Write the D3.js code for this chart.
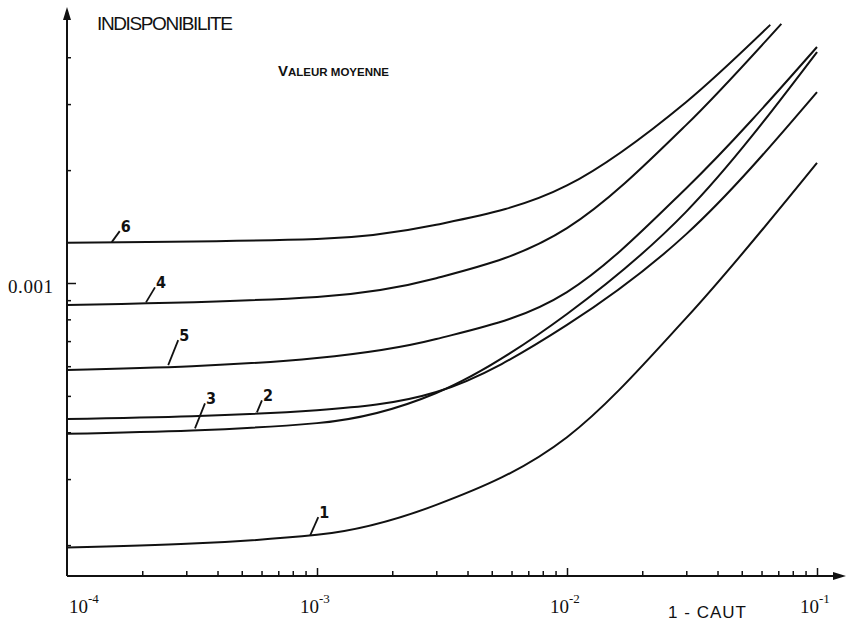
<!DOCTYPE html>
<html>
<head>
<meta charset="utf-8">
<script src="https://cdn.jsdelivr.net/npm/d3@7"></script>
<style>
  body { margin: 0; background: #fff; }
  svg { display: block; }
  text { fill: #111; }
</style>
</head>
<body>
<div id="chart"></div>
<script>
// Abscisses (1 - CAUT) des points relevés, par courbe
const xCommun = [1e-4, 1e-3, 3e-3, 1e-2, 3e-2, 1e-1];
const xCourbe4 = [1e-4, 1e-3, 3e-3, 1e-2, 3e-2, 0.072];
const xCourbe6 = [1e-4, 1e-3, 3e-3, 1e-2, 3e-2, 0.065];

// Indisponibilité (valeur moyenne)
const courbe1 = [0.000197, 0.000213, 0.000256, 0.000388, 0.000807, 0.00209];
const courbe2 = [0.000434, 0.000458, 0.000512, 0.000773, 0.00135, 0.00323];
const courbe3 = [0.000396, 0.000423, 0.000509, 0.000827, 0.00155, 0.00413];
const courbe4 = [0.000874, 0.000918, 0.00103, 0.00140, 0.00264, 0.00491];
const courbe5 = [0.000586, 0.000631, 0.000709, 0.000946, 0.00179, 0.00426];
const courbe6 = [0.00128, 0.00131, 0.00143, 0.00182, 0.00304, 0.00488];

// Repères des numéros de courbe (abscisse du trait de rappel)
const numeros = ['1', '2', '3', '4', '5', '6'];
const xNumeros = [9.4e-4, 5.75e-4, 3.25e-4, 2.07e-4, 2.54e-4, 1.51e-4];

// Graduations
const xDecades = [1e-4, 1e-3, 1e-2, 1e-1];
const xLabels = ['-4', '-3', '-2', '-1'];
const yMineures = [2e-4, 3e-4, 4e-4, 5e-4, 6e-4, 7e-4, 8e-4, 9e-4, 2e-3, 3e-3, 4e-3];
const yMajeure = [1e-3];
const yLabel = ['0.001'];

const series = [
    { id: '1', xs: xCommun, ys: courbe1 },
    { id: '2', xs: xCommun, ys: courbe2 },
    { id: '3', xs: xCommun, ys: courbe3 },
    { id: '4', xs: xCourbe4, ys: courbe4 },
    { id: '5', xs: xCommun, ys: courbe5 },
    { id: '6', xs: xCourbe6, ys: courbe6 }
];

const width = 846, height = 623;

let svg = d3.select('#chart')
    .append('svg')
        .attr('width', width)
        .attr('height', height);

//Echelles log-log
let x = d3.scaleLog()
    .domain([1e-4, 1e-1])
    .range([67, 817]);

let y = d3.scaleLog()
    .domain([1e-4, 1e-2])
    .range([658, -92]);

const yBas = 576;

//Axe X : graduations vers le haut
let xMinor = [];
xDecades.slice(0, 3).forEach(function(d) {
    for (let k = 2; k <= 9; k++) xMinor.push(d * k);
});

svg.append('g')
    .attr('transform', 'translate(0,' + yBas + ')')
    .call(d3.axisBottom(x).tickValues(xMinor).tickSize(-5).tickFormat(''))
    .call(function(g) { g.select('.domain').remove(); })
    .call(function(g) { g.selectAll('.tick line').attr('stroke', '#111').attr('stroke-width', 1.5); });

svg.append('g')
    .attr('transform', 'translate(0,' + yBas + ')')
    .call(d3.axisBottom(x).tickValues(xDecades.slice(1)).tickSize(-8).tickFormat(''))
    .call(function(g) { g.select('.domain').remove(); })
    .call(function(g) { g.selectAll('.tick line').attr('stroke', '#111').attr('stroke-width', 1.5); });

//Axe Y : graduations vers la droite
svg.append('g')
    .attr('transform', 'translate(67,0)')
    .call(d3.axisLeft(y).tickValues(yMineures).tickSize(-4).tickFormat(''))
    .call(function(g) { g.select('.domain').remove(); })
    .call(function(g) { g.selectAll('.tick line').attr('stroke', '#111').attr('stroke-width', 1.5); });

svg.append('g')
    .attr('transform', 'translate(67,0)')
    .call(d3.axisLeft(y).tickValues(yMajeure).tickSize(-9).tickFormat(''))
    .call(function(g) { g.select('.domain').remove(); })
    .call(function(g) { g.selectAll('.tick line').attr('stroke', '#111').attr('stroke-width', 1.5); });

//Traits des axes avec flèches
svg.append('path')
    .attr('d', 'M67,' + yBas + 'V18 M67,' + yBas + 'H836')
    .attr('fill', 'none')
    .attr('stroke', '#111')
    .attr('stroke-width', 2);

svg.append('path')
    .attr('d', 'M67,7 L63,20 L71,20 Z')
    .attr('fill', '#111');

svg.append('path')
    .attr('d', 'M846,' + yBas + ' L833,' + (yBas - 4) + ' L833,' + (yBas + 4) + ' Z')
    .attr('fill', '#111');

//Libellés des décades 10^-n
let lab = svg.append('g')
    .selectAll('text')
    .data(xDecades)
    .enter()
    .append('text')
    .attr('x', function(d, i) { return i == 0 ? x(d) + 2 : x(d) - 17; })
    .attr('y', 613)
    .style('font-family', '"Liberation Serif", serif')
    .style('font-size', '19px');

lab.append('tspan').text('10');
lab.append('tspan')
    .attr('dy', -10)
    .style('font-size', '13px')
    .text(function(d, i) { return xLabels[i]; });

svg.append('text')
    .attr('x', 668)
    .attr('y', 618)
    .style('font-family', '"Liberation Sans Narrow", sans-serif')
    .style('font-size', '17px')
    .attr('textLength', 78)
    .text('1 - CAUT');

svg.append('text')
    .attr('x', 53)
    .attr('y', y(yMajeure[0]) + 10)
    .attr('text-anchor', 'end')
    .style('font-family', '"Liberation Serif", serif')
    .style('font-size', '19px')
    .attr('textLength', 45)
    .text(yLabel[0]);

//Titres
svg.append('text')
    .attr('x', 97)
    .attr('y', 30)
    .style('font-family', '"Liberation Sans Narrow", sans-serif')
    .style('font-size', '19px')
    .attr('textLength', 136)
    .text('INDISPONIBILITE');

let sousTitre = svg.append('text')
    .attr('x', 278)
    .attr('y', 76)
    .style('font-family', '"Liberation Sans", sans-serif')
    .style('font-weight', '700');
sousTitre.append('tspan').style('font-size', '15px').text('V');
sousTitre.append('tspan').style('font-size', '11.5px').text('ALEUR MOYENNE');

//Courbes
let line = d3.line()
    .x(function(d) { return x(d[0]); })
    .y(function(d) { return y(d[1]); })
    .curve(d3.curveMonotoneX);

svg.append('g')
    .selectAll('path')
    .data(series)
    .enter()
    .append('path')
    .attr('class', function(d) { return 'courbe courbe_' + d.id; })
    .attr('d', function(d) { return line(d.xs.map(function(v, i) { return [v, d.ys[i]]; })); })
    .attr('fill', 'none')
    .attr('stroke', '#111')
    .attr('stroke-width', 2);

//Valeur d'une courbe en une abscisse (interpolation log-log)
function valeurEn(s, xv) {
    let lx = Math.log10(xv);
    for (let i = 0; i < s.xs.length - 1; i++) {
        let a = Math.log10(s.xs[i]), b = Math.log10(s.xs[i + 1]);
        if (lx >= a && lx <= b) {
            let t = (lx - a) / (b - a);
            return Math.pow(10, Math.log10(s.ys[i]) * (1 - t) + Math.log10(s.ys[i + 1]) * t);
        }
    }
    return s.ys[0];
}

//Traits de rappel + numéros
const rappel = { '1': [8, -18], '2': [5, -12], '3': [10, -25], '4': [9, -15], '5': [10, -25], '6': [8, -11] };

numeros.forEach(function(n, i) {
    let s = series.find(function(d) { return d.id == n; });
    let px = x(xNumeros[i]);
    let py = y(valeurEn(s, xNumeros[i]));
    let off = rappel[n];

    svg.append('line')
        .attr('x1', px)
        .attr('y1', py)
        .attr('x2', px + off[0])
        .attr('y2', py + off[1])
        .attr('stroke', '#111')
        .attr('stroke-width', 1.8);

    svg.append('text')
        .attr('x', px + off[0] + 1)
        .attr('y', py + off[1] + 1)
        .style('font-family', '"DejaVu Sans Condensed", "DejaVu Sans", sans-serif')
        .style('font-weight', '700')
        .style('font-size', '16px')
        .text(n);
});
</script>
</body>
</html>
